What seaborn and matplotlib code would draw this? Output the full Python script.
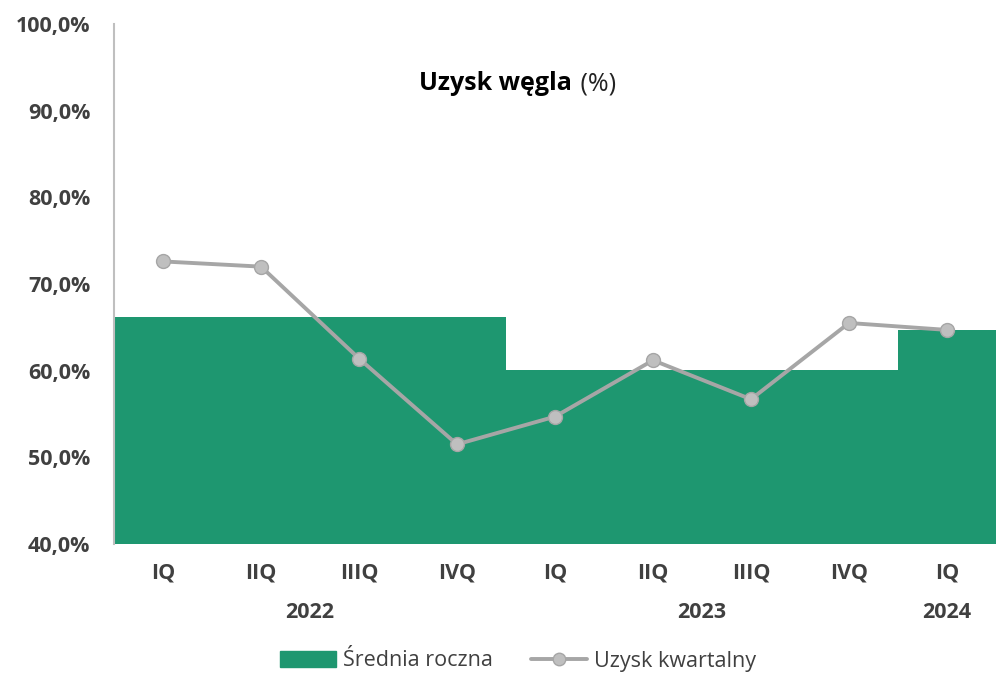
import numpy as np
import pandas as pd
import matplotlib
matplotlib.use("Agg")
import matplotlib.pyplot as plt
import seaborn as sns
from matplotlib.patches import Patch
from matplotlib.lines import Line2D

# data
quarters = ["IQ", "IIQ", "IIIQ", "IVQ", "IQ", "IIQ", "IIIQ", "IVQ", "IQ"]
years = ["2022", "2022", "2022", "2022", "2023", "2023", "2023", "2023", "2024"]
quarterly = [72.6, 72.0, 61.4, 51.5, 54.7, 61.2, 56.7, 65.5, 64.7]
year_labels = ["2022", "2023", "2024"]
year_avg = [66.2, 60.1, 64.7]

green = "#1e9770"
grey_line = "#a6a6a6"
grey_marker = "#bfbfbf"
txt = "#404040"

sns.set_style("white")
plt.rcParams["font.family"] = ["Open Sans", "DejaVu Sans"]

df = pd.DataFrame({"pos": np.arange(len(quarters)), "q": quarters, "year": years,
                   "uzysk": quarterly})
df["avg"] = df["year"].map(dict(zip(year_labels, year_avg)))

fig = plt.figure(figsize=(9.96, 6.75), dpi=100)
ax = fig.add_axes([0.1145, 0.194, 0.8855, 0.7706])

sns.barplot(data=df, x="pos", y="avg", color=green, width=1.0, saturation=1,
            ax=ax, native_scale=True, linewidth=0)
sns.lineplot(data=df, x="pos", y="uzysk", color=grey_line, linewidth=2.8,
             marker="o", markersize=10, markerfacecolor=grey_marker,
             markeredgecolor=grey_line, markeredgewidth=1, ax=ax)

ax.set_xlim(-0.5, len(quarters) - 0.5)
ax.set_ylim(40, 100)
ax.set_yticks(np.arange(40, 101, 10))
ax.set_yticklabels([f"{v:.1f}%".replace(".", ",") for v in np.arange(40, 101, 10)],
                   fontsize=15.5, fontweight="bold", color=txt)
ax.set_xticks(df["pos"])
ax.set_xticklabels(quarters, fontsize=15.5, fontweight="bold", color=txt)
ax.tick_params(axis="x", length=0, pad=13)
ax.tick_params(axis="y", length=0, pad=17)
ax.set_xlabel("")
ax.set_ylabel("")

for s in ["top", "right", "bottom"]:
    ax.spines[s].set_visible(False)
ax.spines["left"].set_color("#bfbfbf")
ax.spines["left"].set_linewidth(1.5)

# year labels under quarter ticks
for y in year_labels:
    p = df.loc[df["year"] == y, "pos"]
    ax.text(p.mean(), -0.132, y, transform=ax.get_xaxis_transform(), ha="center",
            va="center", fontsize=15.5, fontweight="bold", color=txt)

# title
fig.text(572 / 996, 1 - 84 / 675, "Uzysk węgla", ha="right", va="center",
         fontsize=18, fontweight="bold", color="black")
fig.text(574 / 996, 1 - 84 / 675, " (%)", ha="left", va="center",
         fontsize=18, color="#222222")

handles = [Patch(facecolor=green, edgecolor=green),
           Line2D([0], [0], color=grey_line, linewidth=2.8, marker="o", markersize=9,
                  markerfacecolor=grey_marker, markeredgecolor=grey_line)]
fig.legend(handles, ["Średnia roczna", "Uzysk kwartalny"], loc="center",
           bbox_to_anchor=(518 / 996, 1 - 661 / 675), ncol=2, frameon=False,
           fontsize=15.5, handlelength=2.6, handletextpad=0.3, columnspacing=1.8,
           labelcolor=txt)

fig.savefig("out.png", dpi=100)
